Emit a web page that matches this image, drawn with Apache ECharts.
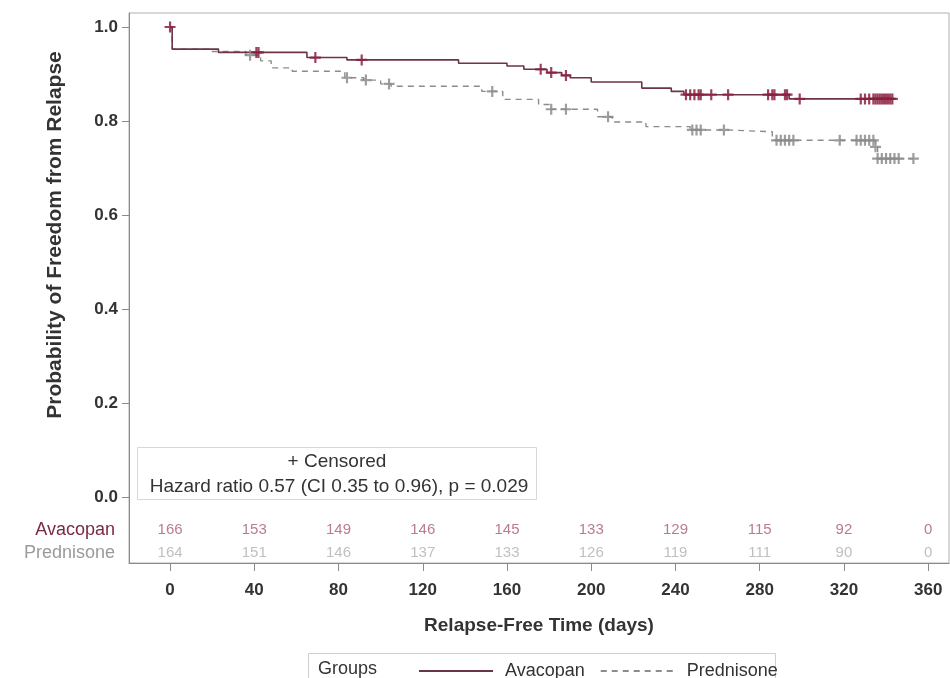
<!DOCTYPE html>
<html>
<head>
<meta charset="utf-8">
<script src="https://cdn.jsdelivr.net/npm/echarts@6/dist/echarts.min.js"></script>
<style>
html,body{margin:0;padding:0;background:#fff;}
#chart{width:950px;height:678px;}
</style>
</head>
<body>
<div id="chart"></div>
<script>
// ---- Data ----
// Kaplan-Meier steps: [time (days), survival after that time]
const avacopanSteps = [[0,1.0],[1,0.953],[23,0.946],[65,0.935],[84,0.930],[137,0.923],[160,0.917],[168,0.910],[179,0.903],[186,0.897],[190,0.892],[200,0.883],[224,0.870],[238,0.863],[244,0.856],[294,0.847],[344,0.847]];
const prednisoneSteps = [[0,1.0],[1,0.953],[20,0.948],[36,0.940],[43,0.928],[48,0.913],[58,0.906],[83,0.892],[92,0.887],[100,0.879],[105,0.874],[148,0.863],[158,0.846],[175,0.835],[180,0.825],[203,0.809],[210,0.798],[226,0.788],[247,0.781],[265,0.777],[286,0.759],[335,0.745],[336,0.720],[353,0.720]];
// Censoring times (days)
const avacopanCensored = [0,41,42,69,91,176,181,188,245,247,249,251,252,257,265,284,286,287,292,293,299,328,330,332,334,335,336,337,338,339,340,341,342,343];
const prednisoneCensored = [38,84,93,104,153,181,188,208,248,250,252,263,288,290,292,294,296,318,326,328,330,332,334,335,336,338,340,342,344,346,353];
// Number at risk
const atRiskTimes = [0,40,80,120,160,200,240,280,320,360];
const avacopanAtRisk = [166,153,149,146,145,133,129,115,92,0];
const prednisoneAtRisk = [164,151,146,137,133,126,119,111,90,0];
// Axis ticks
const xTicks = [0,40,80,120,160,200,240,280,320,360];
const yTicks = [0,0.2,0.4,0.6,0.8,1.0];
const groups = ['Avacopan','Prednisone'];

// ---- Build ----
function survAt(steps, t){ let v = steps[0][1]; for (const s of steps){ if (s[0] <= t) v = s[1]; } return v; }
const FONT = "'Liberation Sans', Arial, sans-serif";
const RED_LINE = '#6b3544', RED_MARK = '#8a2040';
const GRAY_LINE = '#8c8c8c';
const PLUS = 'path://M4.4,0H6.6V4.4H11V6.6H6.6V11H4.4V6.6H0V4.4H4.4Z';
const XMIN = -19.5, XMAX = 369.9;

const chart = echarts.init(document.getElementById('chart'), null, {renderer:'canvas'});
const option = {
  animation: false,
  textStyle: {fontFamily: FONT},
  grid: [
    {left:129, right:1, top:13, bottom:115, show:true, borderColor:'#b0b0b0', borderWidth:1, containLabel:false},
    {left:129, right:1, top:519, height:45, show:false, containLabel:false}
  ],
  xAxis: [
    {type:'value', gridIndex:0, min:XMIN, max:XMAX,
     axisLine:{show:true, onZero:false, lineStyle:{color:'#8a8a8a'}},
     axisTick:{show:true, length:8, customValues:xTicks, lineStyle:{color:'#8a8a8a'}},
     axisLabel:{customValues:xTicks, color:'#333', fontSize:17, fontWeight:'bold', margin:19, fontFamily:FONT},
     splitLine:{show:false},
     name:'Relapse-Free Time (days)', nameLocation:'middle', nameGap:53,
     nameTextStyle:{color:'#333', fontSize:19, fontWeight:'bold', fontFamily:FONT}},
    {type:'value', gridIndex:1, min:XMIN, max:XMAX, show:false}
  ],
  yAxis: [
    {type:'value', gridIndex:0, min:-0.1404, max:1.0298,
     axisLine:{show:true, onZero:false, lineStyle:{color:'#8a8a8a'}},
     axisTick:{show:true, length:7, customValues:yTicks, lineStyle:{color:'#8a8a8a'}},
     axisLabel:{customValues:yTicks, formatter:v=>v.toFixed(1), color:'#333', fontSize:17, fontWeight:'bold', margin:11, fontFamily:FONT},
     splitLine:{show:false}},
    {type:'category', gridIndex:1, data:groups, inverse:true,
     axisLine:{show:false}, axisTick:{show:false},
     axisLabel:{interval:0, margin:14, fontSize:18, fontFamily:FONT, hideOverlap:false,
       formatter:v=> v==='Avacopan' ? '{a|'+v+'}' : '{p|'+v+'}',
       rich:{a:{color:'#7a2846', fontSize:18, fontFamily:FONT}, p:{color:'#9a9a9a', fontSize:18, fontFamily:FONT}}}}
  ],
  legend: {
    data:['Avacopan','Prednisone'], left:413, top:657, itemWidth:74, itemHeight:14, itemGap:15,
    itemStyle:{opacity:0},
    textStyle:{color:'#333', fontSize:18, fontFamily:FONT, padding:[0,0,0,7]}
  },
  graphic: [
    {type:'text', x:55, y:235, rotation:Math.PI/2,
     style:{text:'Probability of Freedom from Relapse', font:'bold 21px '+FONT, fill:'#333', textAlign:'center', textVerticalAlign:'middle'}},
    {type:'rect', shape:{x:137.5, y:447.5, width:399, height:52}, style:{fill:'#fff', stroke:'#d8d8d8', lineWidth:1}, z:50},
    {type:'text', x:337, y:462, z:51, style:{text:'+ Censored', font:'19px '+FONT, fill:'#333', textAlign:'center', textVerticalAlign:'middle'}},
    {type:'text', x:339, y:487, z:51, style:{text:'Hazard ratio 0.57 (CI 0.35 to 0.96), p = 0.029', font:'19px '+FONT, fill:'#333', textAlign:'center', textVerticalAlign:'middle'}},
    {type:'rect', shape:{x:308.5, y:653.5, width:467, height:40}, style:{fill:'none', stroke:'#cfcfcf', lineWidth:1}},
    {type:'text', x:318, y:669, style:{text:'Groups', font:'18px '+FONT, fill:'#333', textAlign:'left', textVerticalAlign:'middle'}}
  ],
  series: [
    {name:'Avacopan', type:'line', xAxisIndex:0, yAxisIndex:0, step:'end', symbol:'none', data:avacopanSteps,
     lineStyle:{color:RED_LINE, width:1.6}, itemStyle:{color:RED_LINE}, z:3},
    {name:'Prednisone', type:'line', xAxisIndex:0, yAxisIndex:0, step:'end', symbol:'none', data:prednisoneSteps,
     lineStyle:{color:GRAY_LINE, width:1.4, type:[6,5]}, itemStyle:{color:GRAY_LINE}, z:2},
    {name:'Avacopan censored', type:'scatter', xAxisIndex:0, yAxisIndex:0, symbol:PLUS, symbolSize:11,
     data:avacopanCensored.map(t=>[t, survAt(avacopanSteps,t)]), itemStyle:{color:RED_MARK, opacity:0.85}, z:4},
    {name:'Prednisone censored', type:'scatter', xAxisIndex:0, yAxisIndex:0, symbol:PLUS, symbolSize:11,
     data:prednisoneCensored.map(t=>[t, survAt(prednisoneSteps,t)]), itemStyle:{color:GRAY_LINE, opacity:0.85}, z:3},
    {name:'Avacopan at risk', type:'scatter', xAxisIndex:1, yAxisIndex:1, symbolSize:1, itemStyle:{color:'rgba(0,0,0,0)'},
     data:atRiskTimes.map((t,i)=>[t,'Avacopan',avacopanAtRisk[i]]),
     label:{show:true, position:'inside', formatter:p=>String(p.value[2]), color:'#a85a78', fontSize:15, fontFamily:FONT}},
    {name:'Prednisone at risk', type:'scatter', xAxisIndex:1, yAxisIndex:1, symbolSize:1, itemStyle:{color:'rgba(0,0,0,0)'},
     data:atRiskTimes.map((t,i)=>[t,'Prednisone',prednisoneAtRisk[i]]),
     label:{show:true, position:'inside', formatter:p=>String(p.value[2]), color:'#b0b0b0', fontSize:15, fontFamily:FONT}}
  ]
};
chart.setOption(option);
</script>
</body>
</html>
